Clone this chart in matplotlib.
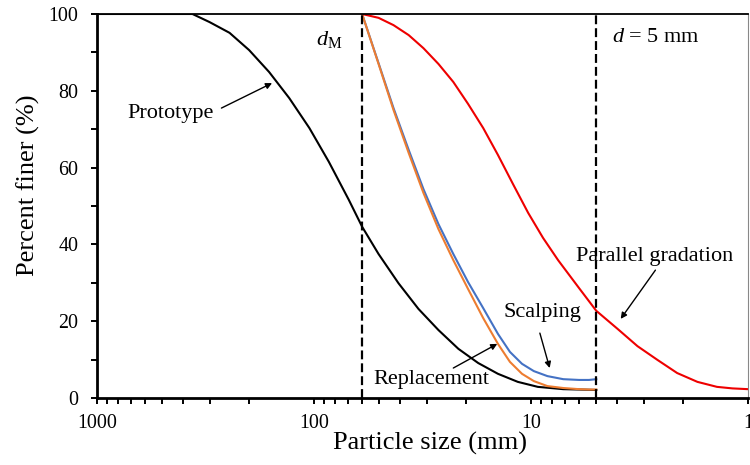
"""
Grain size distribution curves: prototype gradation and the three scaled
gradations (scalping, replacement, parallel gradation).
"""

# IMPORTS
import matplotlib
matplotlib.use('Agg')
import matplotlib.pyplot as plt
from matplotlib.ticker import FixedLocator, LogLocator, NullFormatter

# particle size [mm] and percent finer [%] for every curve
proto_d = [1000, 500, 363, 303, 245, 199, 161, 130, 105, 85.4, 69.1, 60, 50.4, 40.8, 33.0,
           26.7, 21.6, 17.5, 14.2, 11.5, 9.3, 7.1, 5]
proto_p = [100, 100, 100, 97.9, 95.1, 90.6, 84.9, 78.1, 70.3, 61.5, 51.6, 44.6, 37.5, 29.9,
           23.2, 17.7, 12.8, 9.1, 6.3, 4.2, 2.9, 2.3, 2.1]

size_d = [60, 50.4, 43.0, 36.6, 31.3, 26.7, 22.8, 19.5, 16.6, 14.2, 12.5, 11.0, 9.7, 8.4,
          7.1, 6.0, 5.4, 5.0]
scalp_p = [100, 87.2, 75.5, 64.6, 54.4, 45.3, 37.5, 30.2, 23.4, 16.7, 12.0, 8.9, 7.0, 5.7,
           4.9, 4.7, 4.7, 4.9]
repl_p = [100, 87.0, 75.0, 63.8, 53.4, 44.0, 35.9, 28.4, 20.8, 14.1, 9.4, 6.3, 4.4, 3.1,
          2.6, 2.3, 2.2, 2.2]

par_d = [60, 50.4, 43.0, 36.6, 31.3, 26.7, 22.8, 19.5, 16.6, 14.2, 12.1, 10.3, 8.8, 7.5,
         6.0, 5.0, 3.99, 3.23, 2.61, 2.12, 1.71, 1.39, 1.18, 1.0]
par_p = [100, 99.0, 97.1, 94.5, 91.1, 87.0, 82.3, 76.6, 70.3, 63.3, 55.7, 48.2, 41.7, 35.9,
         28.6, 22.7, 18.0, 13.5, 9.9, 6.5, 4.2, 2.9, 2.5, 2.3]

# limiting sizes
d_max = 60   # d_M [mm]
d_min = 5    # [mm]


def main():
    plt.rcParams['font.family'] = ['Liberation Serif', 'DejaVu Serif']
    plt.rcParams['mathtext.fontset'] = 'custom'
    plt.rcParams['mathtext.rm'] = 'Liberation Serif'
    plt.rcParams['mathtext.it'] = 'Liberation Serif:italic'

    fig = plt.figure(figsize=(7.5, 4.65), dpi=100)
    ax = fig.add_axes([0.1293, 0.1441, 0.8680, 0.8258])

    # grading curves
    ax.plot(proto_d, proto_p, color='black', lw=1.5)
    ax.plot(size_d, scalp_p, color='#4472C4', lw=1.5)
    ax.plot(size_d, repl_p, color='#ED7D31', lw=1.5)
    ax.plot(par_d, par_p, color='#EE0000', lw=1.5)

    # limiting sizes
    for d in (d_max, d_min):
        ax.plot([d, d], [0, 100], color='black', lw=1.6, linestyle=(0, (4, 1.8)))

    ax.set_xscale('log')
    ax.set_xlim(1000, 1)
    ax.set_ylim(0, 100)
    ax.xaxis.set_major_locator(FixedLocator([1000, 100, 10, 1]))
    ax.xaxis.set_minor_locator(LogLocator(base=10, subs=range(2, 10)))
    ax.xaxis.set_minor_formatter(NullFormatter())
    ax.set_xticklabels(['1000', '100', '10', '1'])
    ax.set_yticks([0, 20, 40, 60, 80, 100])
    ax.set_yticks([10, 30, 50, 70, 90], minor=True)

    ax.tick_params(which='both', direction='out', width=1.4, labelsize=14.4, color='black')
    ax.tick_params(which='major', length=4.5)
    ax.tick_params(which='minor', length=4)
    ax.tick_params(axis='x', pad=7)
    ax.tick_params(axis='y', pad=9)

    for s in ('left', 'bottom'):
        ax.spines[s].set_linewidth(2)
    ax.spines['top'].set_linewidth(1.3)
    ax.spines['right'].set_linewidth(0.8)
    ax.spines['right'].set_color('#888888')

    ax.set_xlabel('Particle size (mm)', fontsize=19)
    ax.set_ylabel('Percent finer (%)', fontsize=19)
    ax.xaxis.set_label_coords(0.5115, -0.088)
    ax.yaxis.set_label_coords(-0.088, 0.555)

    # labels
    ax.text(98, 91.9, r'$d_{\mathrm{M}}$', fontsize=16, ha='left', va='baseline')
    ax.text(4.25, 92.7, r'$d$ = 5 mm', fontsize=16, ha='left', va='baseline')

    arrow = dict(arrowstyle='-|>', color='black', lw=1, mutation_scale=9,
                 shrinkA=0, shrinkB=0)
    ax.text(721, 72.9, 'Prototype', fontsize=16, ha='left', va='baseline')
    ax.annotate('', xy=(156, 82.0), xytext=(267, 75.5), arrowprops=arrow)
    ax.text(53, 3.6, 'Replacement', fontsize=16, ha='left', va='baseline')
    ax.annotate('', xy=(14.3, 14.1), xytext=(22.8, 7.8), arrowprops=arrow)
    ax.text(13.4, 21.1, 'Scalping', fontsize=16, ha='left', va='baseline')
    ax.annotate('', xy=(8.2, 7.8), xytext=(9.1, 16.9), arrowprops=arrow)
    ax.text(6.2, 35.7, 'Parallel gradation', fontsize=16, ha='left', va='baseline')
    ax.annotate('', xy=(3.86, 20.6), xytext=(2.67, 33.3), arrowprops=arrow)

    plt.savefig('out.png', dpi=100)


#
# MAIN ENTRY POINT
#
if __name__ == "__main__":
    main()
